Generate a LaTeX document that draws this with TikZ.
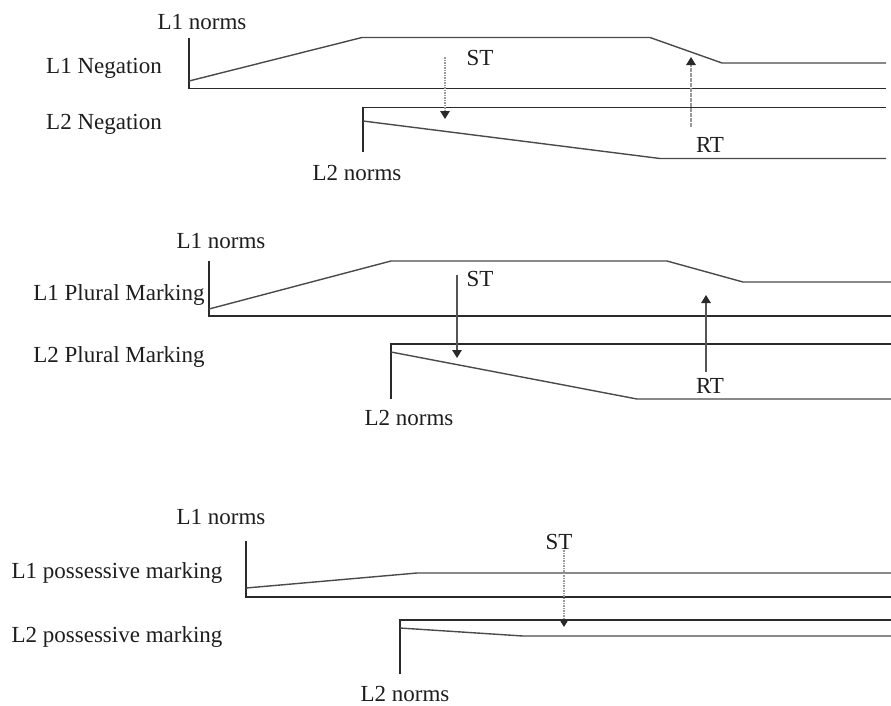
\documentclass[tikz,border=0pt]{standalone}
\usepackage{fontspec}
\setmainfont{Liberation Serif}
\usetikzlibrary{arrows.meta}
\definecolor{ink}{HTML}{2A2A2A}
\definecolor{txt}{HTML}{1E1E1E}
\tikzset{
  lbl/.style={inner sep=0pt, text=txt, font=\fontsize{23}{25}\selectfont},
  frame/.style={draw=ink, line width=1.7pt},
  trend/.style={draw=ink!85, line width=1.4pt, line join=round},
  dotarrow/.style={draw=gray!80, line width=1.4pt, dash pattern=on 1.6pt off 0.9pt,
    -{Triangle[length=8pt,width=9.5pt,color=ink,fill=ink]}},
  solidarrow/.style={draw=ink!80, line width=1.4pt,
    -{Triangle[length=8pt,width=9.5pt,color=ink,fill=ink]}},
}
\begin{document}
\begin{tikzpicture}[x=1pt,y=-1pt]
\useasboundingbox[fill=white] (0,0) rectangle (891,705);

% ---------------- Panel 1: Negation ----------------
\node[lbl] (p1l1n) at (202,22) {L1 norms};
\node[lbl] (p1neg1) at (104,68) {L1 Negation};
\node[lbl] (p1neg2) at (104,124) {L2 Negation};
\node[lbl] (p1l2n) at (357,173) {L2 norms};
\node[lbl] (p1st) at (480,58) {ST};
\node[lbl] (p1rt) at (710,145) {RT};

\draw[frame] (189,38) -- (189,88.5) -- (886,88.5);
\draw[trend] (189,81) -- (362,37.5) -- (650,37.5) -- (722,63) -- (886,63);
\draw[frame] (363,152) -- (363,107.5) -- (886,107.5);
\draw[trend] (363,121) -- (660,158.5) -- (886,158.5);

\coordinate (p1sta) at (445,57);
\coordinate (p1stb) at (445,119);
\coordinate (p1rta) at (691,127);
\coordinate (p1rtb) at (691,57);
\draw[dotarrow] (p1sta) -- (p1stb);
\draw[dotarrow] (p1rta) -- (p1rtb);

% ---------------- Panel 2: Plural Marking ----------------
\node[lbl] (p2l1n) at (221,241) {L1 norms};
\node[lbl] (p2pl1) at (119,295) {L1 Plural Marking};
\node[lbl] (p2pl2) at (119,357) {L2 Plural Marking};
\node[lbl] (p2l2n) at (409,418) {L2 norms};
\node[lbl] (p2st) at (480,279) {ST};
\node[lbl] (p2rt) at (710,386) {RT};

\draw[frame] (209,261) -- (209,316) -- (891,316);
\draw[trend] (209,309) -- (391,261) -- (667,261) -- (743,282) -- (891,282);
\draw[frame] (391,399) -- (391,344) -- (891,344);
\draw[trend] (391,352) -- (637,399) -- (891,399);

\coordinate (p2sta) at (457,275);
\coordinate (p2stb) at (457,358);
\coordinate (p2rta) at (706,372);
\coordinate (p2rtb) at (706,295);
\draw[solidarrow] (p2sta) -- (p2stb);
\draw[solidarrow] (p2rta) -- (p2rtb);

% ---------------- Panel 3: possessive marking ----------------
\node[lbl] (p3l1n) at (221,517) {L1 norms};
\node[lbl] (p3pm1) at (117,573) {L1 possessive marking};
\node[lbl] (p3pm2) at (117,637) {L2 possessive marking};
\node[lbl] (p3l2n) at (405,694) {L2 norms};
\node[lbl] (p3st) at (559,542) {ST};

\draw[frame] (246,541) -- (246,597) -- (891,597);
\draw[trend] (246,588) -- (417,573) -- (891,573);
\draw[frame] (400,674) -- (400,620) -- (891,620);
\draw[trend] (400,628) -- (523,636) -- (891,636);

\coordinate (p3sta) at (564,550);
\coordinate (p3stb) at (564,627);
\draw[dotarrow] (p3sta) -- (p3stb);
\end{tikzpicture}
\end{document}
